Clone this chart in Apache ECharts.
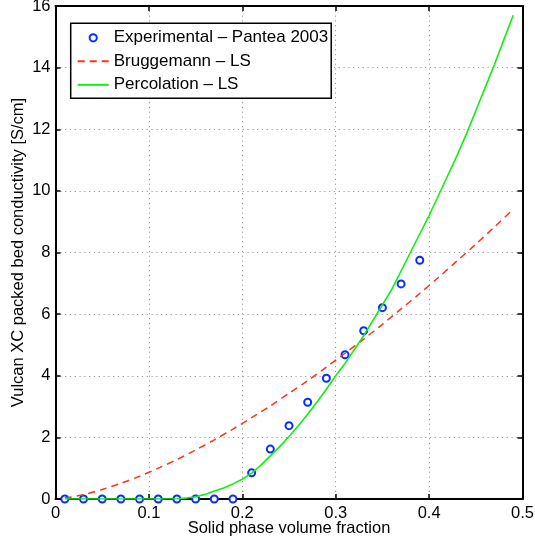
<!DOCTYPE html>
<html><head><meta charset="utf-8">
<script src="https://cdn.jsdelivr.net/npm/echarts@6/dist/echarts.min.js"></script>
<style>html,body{margin:0;padding:0;background:#fff}#c{width:535px;height:541px}</style>
</head><body><div id="c"></div>
<script>
// Experimental – Pantea 2003
const expX = [0.01,0.03,0.05,0.07,0.09,0.11,0.13,0.15,0.17,0.19,0.21,0.23,0.25,0.27,0.29,0.31,0.33,0.35,0.37,0.39];
const expY = [0,0,0,0,0,0,0,0,0,0,0.85,1.62,2.38,3.14,3.92,4.68,5.46,6.21,6.98,7.75];
// Bruggemann – LS
const brugX = [0.01,0.03,0.05,0.07,0.09,0.11,0.13,0.15,0.17,0.19,0.21,0.23,0.25,0.27,0.29,0.31,0.33,0.35,0.37,0.39,0.41,0.43,0.45,0.47,0.49];
const brugY = [0.03,0.14,0.31,0.51,0.74,1.00,1.28,1.59,1.92,2.27,2.64,3.02,3.43,3.84,4.28,4.73,5.19,5.67,6.17,6.67,7.19,7.73,8.27,8.83,9.40];
// Percolation – LS
const percX = [0.01,0.05,0.10,0.12,0.13,0.14,0.15,0.16,0.17,0.18,0.19,0.20,0.21,0.22,0.23,0.24,0.25,0.26,0.27,0.28,0.29,0.30,0.31,0.32,0.33,0.34,0.35,0.36,0.37,0.38,0.39,0.40,0.41,0.42,0.43,0.44,0.45,0.46,0.47,0.48,0.49];
const percY = [0,0,0,0,0.01,0.03,0.07,0.15,0.26,0.36,0.49,0.64,0.84,1.10,1.40,1.70,2.03,2.38,2.75,3.15,3.56,4.00,4.40,4.85,5.30,5.80,6.30,6.80,7.40,8.00,8.60,9.20,9.85,10.50,11.15,11.85,12.60,13.35,14.10,14.90,15.70];

const xTicks = {min: 0, max: 0.5, interval: 0.1};
const yTicks = {min: 0, max: 16, interval: 2};
const xTitle = 'Solid phase volume fraction';
const yTitle = 'Vulcan XC packed bed conductivity [S/cm]';

const FONT = "'Liberation Sans', Arial, Helvetica, sans-serif";
const pairs = (xs, ys) => xs.map((x, i) => [x, ys[i]]);
const gridDots = {show: true, lineStyle: {color: '#999', width: 1, type: [1.2, 3.6]}};
const axLine = {show: true, onZero: false, lineStyle: {color: '#000', width: 2}};
const tick = {show: true, inside: true, length: 5, lineStyle: {color: '#000', width: 1.5}};

const chart = echarts.init(document.getElementById('c'), null, {renderer: 'canvas'});
chart.setOption({
  animation: false,
  backgroundColor: '#fff',
  textStyle: {fontFamily: FONT},
  grid: {left: 55.5, right: 12.5, top: 6, bottom: 42, containLabel: false, outerBoundsMode: 'none'},
  legend: {
    orient: 'vertical', left: 70.7, top: 23.3,
    padding: [6, 3, 5, 6],
    itemWidth: 31, itemHeight: 9, itemGap: 6.5,
    backgroundColor: '#fff', borderColor: '#000', borderWidth: 1.5, borderRadius: 0,
    textStyle: {fontFamily: FONT, fontSize: 17, lineHeight: 17, color: '#000'},
    data: ['Experimental – Pantea 2003', 'Bruggemann – LS', 'Percolation – LS']
  },
  xAxis: [{
    type: 'value', position: 'bottom', min: xTicks.min, max: xTicks.max, interval: xTicks.interval,
    name: xTitle, nameLocation: 'middle', nameGap: 21, nameMoveOverlap: false,
    nameTextStyle: {fontFamily: FONT, fontSize: 16.5, color: '#000'},
    axisLine: axLine, axisTick: tick,
    axisLabel: {margin: 6, fontFamily: FONT, fontSize: 16.5, color: '#000',
      formatter: v => (v === 0 ? '0' : String(+v.toFixed(1)))},
    splitLine: gridDots
  }, {
    type: 'value', position: 'top', min: xTicks.min, max: xTicks.max, interval: xTicks.interval,
    axisLine: axLine, axisTick: tick, axisLabel: {show: false}, splitLine: {show: false}
  }],
  yAxis: [{
    type: 'value', position: 'left', min: yTicks.min, max: yTicks.max, interval: yTicks.interval,
    name: yTitle, nameLocation: 'middle', nameGap: 29, nameRotate: 90, nameMoveOverlap: false,
    nameTextStyle: {fontFamily: FONT, fontSize: 16.5, color: '#000'},
    axisLine: axLine, axisTick: tick,
    axisLabel: {margin: 5, fontFamily: FONT, fontSize: 16.5, color: '#000'},
    splitLine: gridDots
  }, {
    type: 'value', position: 'right', min: yTicks.min, max: yTicks.max, interval: yTicks.interval,
    axisLine: axLine, axisTick: tick, axisLabel: {show: false}, splitLine: {show: false}
  }],
  series: [{
    name: 'Experimental – Pantea 2003', type: 'line', data: pairs(expX, expY),
    symbol: 'emptyCircle', symbolSize: 7, showSymbol: true,
    lineStyle: {width: 0, opacity: 0},
    itemStyle: {color: '#0a2cff', borderWidth: 1.5},
    z: 2
  }, {
    name: 'Bruggemann – LS', type: 'line', data: pairs(brugX, brugY),
    symbol: 'none', smooth: 0.3,
    lineStyle: {color: '#ff3319', width: 1.5, type: [7, 5]},
    itemStyle: {color: '#ff3319', opacity: 0},
    z: 3
  }, {
    name: 'Percolation – LS', type: 'line', data: pairs(percX, percY),
    symbol: 'none', smooth: false,
    lineStyle: {color: '#11ee11', width: 1.6},
    itemStyle: {color: '#11ee11', opacity: 0},
    z: 4
  }]
});
</script>
</body></html>
